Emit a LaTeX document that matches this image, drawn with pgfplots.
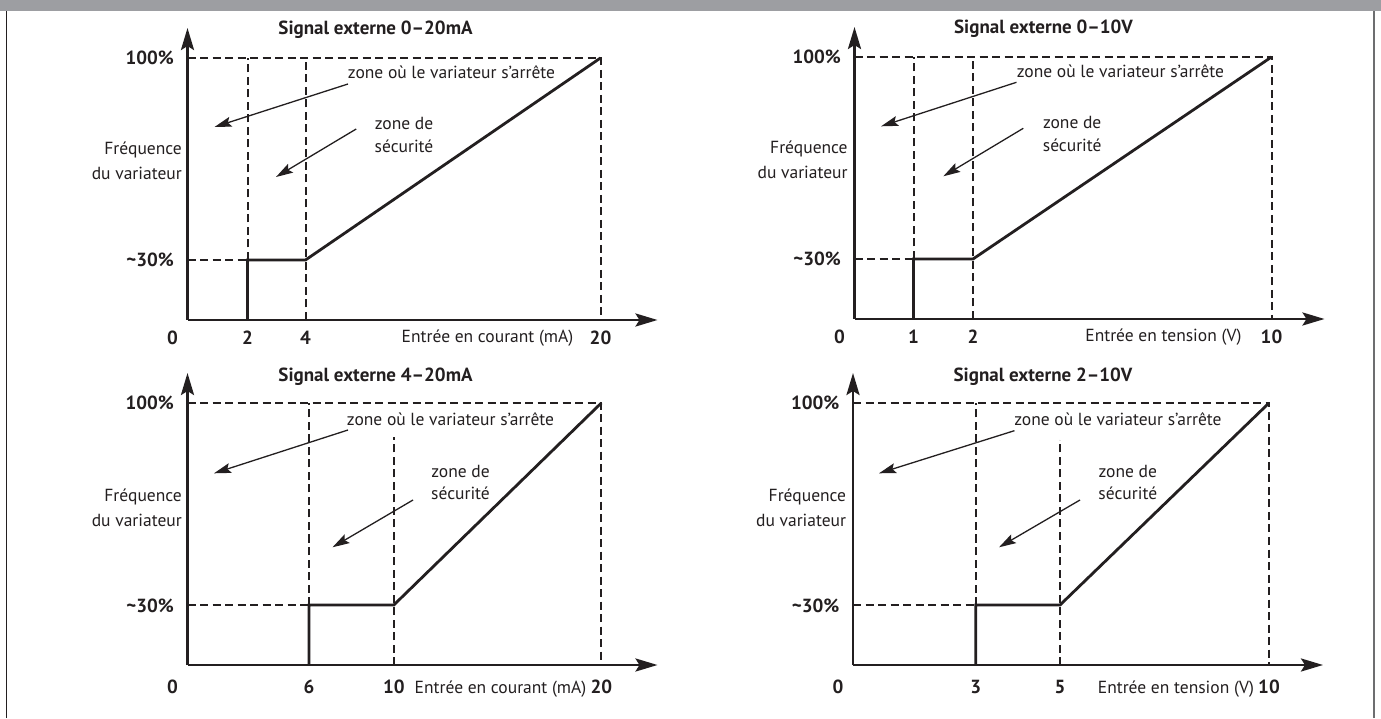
\documentclass[border=0pt]{standalone}
\usepackage{fontspec}
\setmainfont{PT Sans}
\usepackage{pgfplots}
\pgfplotsset{compat=1.18}
\usetikzlibrary{arrows.meta}
\definecolor{txt}{HTML}{231F20}
\definecolor{barg}{HTML}{9D9EA2}
\definecolor{rborder}{HTML}{6D6E70}

\newcommand{\lab}{\fontsize{17.5}{20}\selectfont}
\newcommand{\tit}{\bfseries\fontsize{19}{22}\selectfont}

\pgfplotsset{
  panel/.style={
    x=1pt, y=1pt,
    xmin=0, xmax=470, ymin=0, ymax=292,
    axis lines=left,
    axis line style={line width=2.8pt, txt, -{Stealth[length=22pt,width=13pt,inset=4pt]}},
    clip=false,
    major tick length=0pt,
    tick style={draw=none},
    ytick={60,262}, yticklabels={\textasciitilde30\%,100\%},
    yticklabel style={anchor=base east, inner sep=0pt, xshift=-13.5pt, yshift=-7pt,
      font=\tit, text=txt},
    xticklabel style={anchor=base, inner sep=0pt, yshift=-25pt, font=\tit, text=txt},
    extra x ticks={0}, extra x tick labels={0},
    extra x tick style={xticklabel style={xshift=-15pt}},
  },
}
\tikzset{
  dsh/.style={txt, line width=2pt, dash pattern=on 8pt off 4.5pt},
  crv/.style={txt, line width=2.8pt},
  note/.style={txt, line width=1.3pt, -{Stealth[length=17pt,width=10pt,inset=3pt]}},
}

\begin{document}
\begin{tikzpicture}
\useasboundingbox (0pt,0pt) rectangle (1381pt,718pt);
\fill[white] (0pt,0pt) rectangle (1381pt,718pt);
\fill[barg] (0pt,707pt) rectangle (1381pt,718pt);
\draw[line width=1.6pt, txt] (6.5pt,0pt) -- (6.5pt,707pt);
\draw[line width=2pt, rborder] (1374pt,0pt) -- (1374pt,707pt);

% ---------- Panel 1 : 0-20 mA ----------
\begin{axis}[panel, at={(187.5pt,398pt)}, anchor=south west,
  xtick={60,118,413}, xticklabels={2,4,20}]
\addplot[dsh] coordinates {(0,262) (413,262) (413,0)};
\addplot[dsh] coordinates {(60,60) (60,262)};
\addplot[dsh] coordinates {(118,0) (118,262)};
\addplot[dsh] coordinates {(0,60) (60,60)};
\addplot[crv] coordinates {(60,0) (60,60) (118,60) (413,262)};
\node[anchor=base, font=\tit, text=txt] at (axis cs:188,285) {Signal externe 0–20mA};
\node[anchor=base, font=\lab, text=txt] at (axis cs:264,241.7) {zone où le variateur s’arrête};
\node[anchor=base, font=\lab, text=txt] at (axis cs:216.5,190) {zone de};
\node[anchor=base, font=\lab, text=txt] at (axis cs:216.5,167) {sécurité};
\node[anchor=base east, font=\lab, text=txt, inner sep=0pt] at (axis cs:-5.5,165) {Fréquence};
\node[anchor=base east, font=\lab, text=txt, inner sep=0pt] at (axis cs:-5.5,140) {du variateur};
\node[anchor=base, font=\lab, text=txt] at (axis cs:300,-23) {Entrée en courant (mA)};
\draw[note] (axis cs:160.5,236) -- (axis cs:27,193);
\draw[note] (axis cs:168.7,191) -- (axis cs:88.5,143);
\end{axis}

% ---------- Panel 2 : 0-10 V ----------
\begin{axis}[panel, at={(854.5pt,399pt)}, anchor=south west,
  xtick={59,118.5,417}, xticklabels={1,2,10}]
\addplot[dsh] coordinates {(0,262) (417,262) (417,0)};
\addplot[dsh] coordinates {(59,60) (59,262)};
\addplot[dsh] coordinates {(118.5,0) (118.5,262)};
\addplot[dsh] coordinates {(0,60) (59,60)};
\addplot[crv] coordinates {(59,0) (59,60) (118.5,60) (417,262)};
\node[anchor=base, font=\tit, text=txt] at (axis cs:189,285) {Signal externe 0–10V};
\node[anchor=base, font=\lab, text=txt] at (axis cs:266,241.7) {zone où le variateur s’arrête};
\node[anchor=base, font=\lab, text=txt] at (axis cs:217.7,190) {zone de};
\node[anchor=base, font=\lab, text=txt] at (axis cs:217.7,167) {sécurité};
\node[anchor=base east, font=\lab, text=txt, inner sep=0pt] at (axis cs:-6.7,165) {Fréquence};
\node[anchor=base east, font=\lab, text=txt, inner sep=0pt] at (axis cs:-6.7,140) {du variateur};
\node[anchor=base, font=\lab, text=txt] at (axis cs:309,-23) {Entrée en tension (V)};
\draw[note] (axis cs:162,236.7) -- (axis cs:26.6,192.7);
\draw[note] (axis cs:168.8,190.7) -- (axis cs:88.8,142.7);
\end{axis}

% ---------- Panel 3 : 4-20 mA ----------
\begin{axis}[panel, at={(187.5pt,53pt)}, anchor=south west,
  xtick={121.5,206.3,413.8}, xticklabels={6,10,20},
  xticklabel style={yshift=-3pt}]
\addplot[dsh] coordinates {(0,262) (413.8,262) (413.8,0)};
\addplot[dsh] coordinates {(121.5,60) (121.5,262)};
\addplot[dsh] coordinates {(206.3,0) (206.3,228)};
\addplot[dsh] coordinates {(0,60) (121.5,60)};
\addplot[crv] coordinates {(121.5,0) (121.5,60) (206.3,60) (413.8,262)};
\node[anchor=base, font=\tit, text=txt] at (axis cs:188,283) {Signal externe 4–20mA};
\node[anchor=base, font=\lab, text=txt] at (axis cs:263,239.5) {zone où le variateur s’arrête};
\node[anchor=base, font=\lab, text=txt] at (axis cs:273,187.7) {zone de};
\node[anchor=base, font=\lab, text=txt] at (axis cs:273,165.7) {sécurité};
\node[anchor=base east, font=\lab, text=txt, inner sep=0pt] at (axis cs:-5.5,163.3) {Fréquence};
\node[anchor=base east, font=\lab, text=txt, inner sep=0pt] at (axis cs:-5.5,138.3) {du variateur};
\node[anchor=base, font=\lab, text=txt] at (axis cs:313,-28) {Entrée en courant (mA)};
\draw[note] (axis cs:160.5,235) -- (axis cs:26.5,191.7);
\draw[note] (axis cs:225.5,165) -- (axis cs:145,117.7);
\end{axis}

% ---------- Panel 4 : 2-10 V ----------
\begin{axis}[panel, at={(853pt,53pt)}, anchor=south west,
  xtick={122.8,207,416}, xticklabels={3,5,10},
  xticklabel style={yshift=-3pt}]
\addplot[dsh] coordinates {(0,262) (416,262) (416,0)};
\addplot[dsh] coordinates {(122.8,60) (122.8,262)};
\addplot[dsh] coordinates {(207,0) (207,225)};
\addplot[dsh] coordinates {(0,60) (122.8,60)};
\addplot[crv] coordinates {(122.8,0) (122.8,60) (207,60) (416,262)};
\node[anchor=base, font=\tit, text=txt] at (axis cs:190,283) {Signal externe 2–10V};
\node[anchor=base, font=\lab, text=txt] at (axis cs:265,239.5) {zone où le variateur s’arrête};
\node[anchor=base, font=\lab, text=txt] at (axis cs:274.8,187.7) {zone de};
\node[anchor=base, font=\lab, text=txt] at (axis cs:274.8,165.7) {sécurité};
\node[anchor=base east, font=\lab, text=txt, inner sep=0pt] at (axis cs:-6.7,163.3) {Fréquence};
\node[anchor=base east, font=\lab, text=txt, inner sep=0pt] at (axis cs:-6.7,138.3) {du variateur};
\node[anchor=base, font=\lab, text=txt] at (axis cs:323,-28) {Entrée en tension (V)};
\draw[note] (axis cs:161.4,234.3) -- (axis cs:26,191.7);
\draw[note] (axis cs:227,165) -- (axis cs:146,117.7);
\end{axis}
\end{tikzpicture}
\end{document}
